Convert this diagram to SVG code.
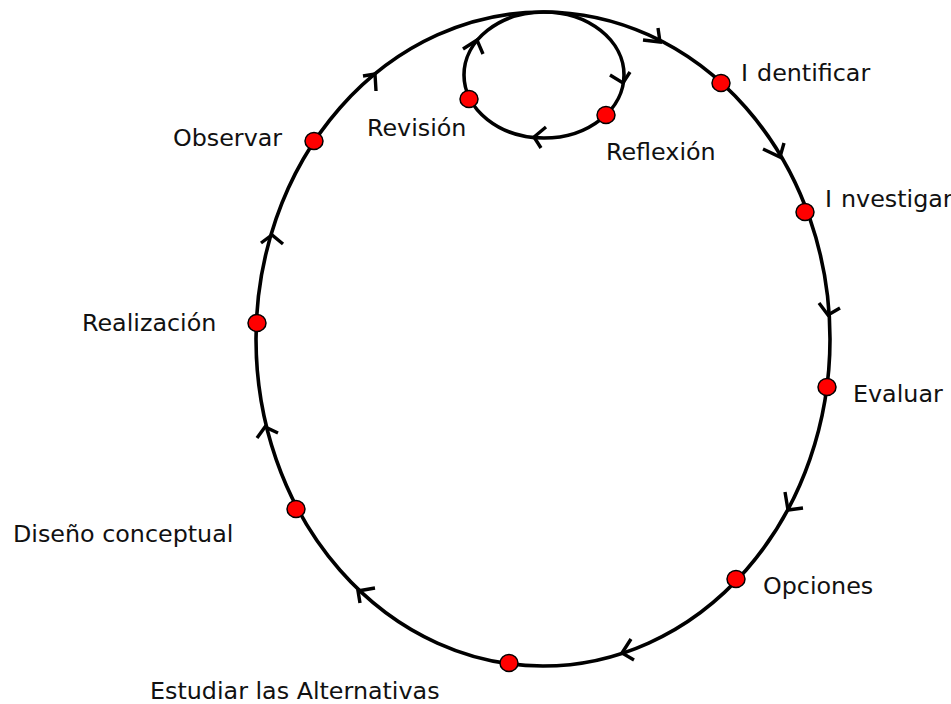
<svg xmlns="http://www.w3.org/2000/svg" width="951" height="704" viewBox="0 0 951 704">
<style>
.loop{fill:none;stroke:#000;stroke-width:3.6}
.arr{fill:none;stroke:#000;stroke-width:3.4;stroke-linejoin:miter;stroke-linecap:butt}
.dot{fill:#ff0000;stroke:#000;stroke-width:1.5}
.lbl{font-family:"DejaVu Sans",sans-serif;font-size:23.8px;fill:#111}
</style>
<rect width="951" height="704" fill="#fff"/>
<g id="connectors">
<ellipse class="loop" cx="543" cy="339" rx="287" ry="327"/>
<ellipse class="loop" cx="544" cy="75" rx="80" ry="63"/>
<polyline class="arr" points="643,40 660,42 658,28"/>
<polyline class="arr" points="763,149 780,157 784,143"/>
<polyline class="arr" points="819,303 828,315 840,308"/>
<polyline class="arr" points="785,492 788,510 803,508"/>
<polyline class="arr" points="631,639 622,653 634,660"/>
<polyline class="arr" points="375,588 358,591 360,603"/>
<polyline class="arr" points="257,438 265,427 278,433"/>
<polyline class="arr" points="261,243 272,235 283,244"/>
<polyline class="arr" points="363,76 375,74 376,91"/>
<polyline class="arr" points="463,49 477,40 483,54"/>
<polyline class="arr" points="610,75 623,83 630,72"/>
<polyline class="arr" points="546,127 534,137 541,148"/>
</g>
<g id="identificar"><ellipse class="dot" cx="721" cy="83" rx="9" ry="8.5"/><text class="lbl" x="741" y="81">I<tspan dx="9">dentificar</tspan></text></g>
<g id="investigar"><ellipse class="dot" cx="805" cy="212" rx="9" ry="8.5"/><text class="lbl" x="825" y="207">I<tspan dx="9">nvestigar</tspan></text></g>
<g id="evaluar"><ellipse class="dot" cx="827" cy="387" rx="9" ry="8.5"/><text class="lbl" x="853" y="402">Evaluar</text></g>
<g id="opciones"><ellipse class="dot" cx="736" cy="579" rx="9" ry="8.5"/><text class="lbl" x="763" y="594">Opciones</text></g>
<g id="estudiar"><ellipse class="dot" cx="509" cy="663" rx="9" ry="8.5"/><text class="lbl" x="150" y="699">Estudiar las Alternativas</text></g>
<g id="diseno"><ellipse class="dot" cx="296" cy="509" rx="9" ry="8.5"/><text class="lbl" x="13" y="542">Diseño conceptual</text></g>
<g id="realizacion"><ellipse class="dot" cx="257" cy="323" rx="9" ry="8.5"/><text class="lbl" x="82" y="331">Realización</text></g>
<g id="observar"><ellipse class="dot" cx="314" cy="141" rx="9" ry="8.5"/><text class="lbl" x="173" y="146">Observar</text></g>
<g id="revision"><ellipse class="dot" cx="469" cy="99" rx="9" ry="8.5"/><text class="lbl" x="367" y="136">Revisión</text></g>
<g id="reflexion"><ellipse class="dot" cx="606" cy="115" rx="9" ry="8.5"/><text class="lbl" x="606" y="160">Reflexión</text></g>
</svg>
